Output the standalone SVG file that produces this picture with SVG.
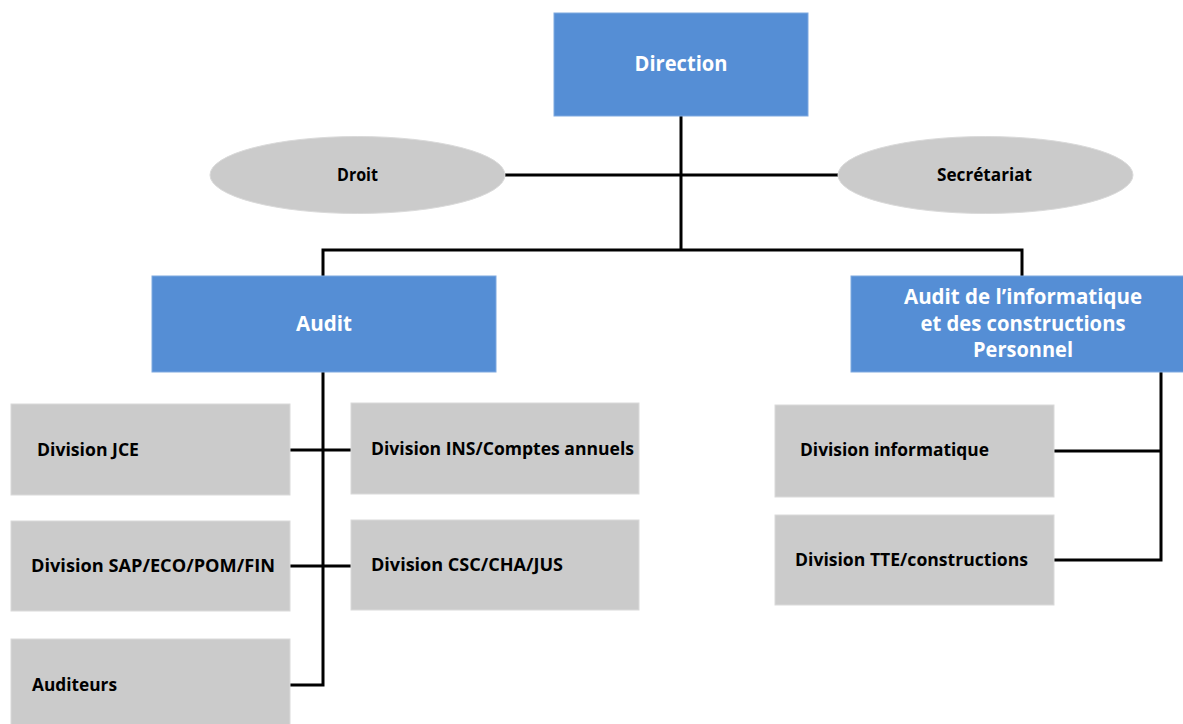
<svg xmlns="http://www.w3.org/2000/svg" width="1183" height="724" viewBox="0 0 1183 724">
<style>
.blue{fill:#558ED5;stroke:#7FA9E0;stroke-width:1}
.gray{fill:#CBCBCB;stroke:#DADADA;stroke-width:1}
.tw{font-family:"Open Sans","Liberation Sans",sans-serif;font-weight:bold;fill:#FFFFFF;text-anchor:middle}
.tb{font-family:"Open Sans","Liberation Sans",sans-serif;font-weight:bold;fill:#000000}
.c{fill:none;stroke:#000000;stroke-width:3}
</style>
<rect width="1183" height="724" fill="#FFFFFF"/>
<g id="connectors">
<path class="c" d="M681 116V250"/>
<path class="c" d="M505 175H838"/>
<path class="c" d="M323 250H1022M323 248.5V276M1022 248.5V276"/>
<path class="c" d="M323 372V685H290"/>
<path class="c" d="M290 450H351M290 566H351"/>
<path class="c" d="M1161 372V560H1054M1054 451H1161"/>
</g>
<g id="direction">
<rect class="blue" x="554" y="13" width="254" height="103"/>
<text class="tw" x="681" y="71" font-size="22" textLength="93" lengthAdjust="spacingAndGlyphs">Direction</text>
</g>
<g id="droit">
<ellipse class="gray" cx="357.5" cy="175" rx="147.5" ry="38.5"/>
<text class="tb" x="337" y="181" font-size="17" textLength="41" lengthAdjust="spacingAndGlyphs">Droit</text>
</g>
<g id="secretariat">
<ellipse class="gray" cx="985.5" cy="175" rx="147.5" ry="38.5"/>
<text class="tb" x="937" y="181" font-size="17" textLength="95" lengthAdjust="spacingAndGlyphs">Secrétariat</text>
</g>
<g id="audit">
<rect class="blue" x="152" y="276" width="344" height="96"/>
<text class="tw" x="324" y="331" font-size="21" textLength="56" lengthAdjust="spacingAndGlyphs">Audit</text>
</g>
<g id="audit-info">
<rect class="blue" x="851" y="276" width="333" height="96"/>
<text class="tw" x="1023" y="304" font-size="21" textLength="238" lengthAdjust="spacingAndGlyphs">Audit de l’informatique</text>
<text class="tw" x="1023" y="331" font-size="21" textLength="205" lengthAdjust="spacingAndGlyphs">et des constructions</text>
<text class="tw" x="1023" y="357" font-size="21" textLength="100" lengthAdjust="spacingAndGlyphs">Personnel</text>
</g>
<g id="div-jce">
<rect class="gray" x="11" y="404" width="279" height="91"/>
<text class="tb" x="37" y="456" font-size="18" textLength="102" lengthAdjust="spacingAndGlyphs">Division JCE</text>
</g>
<g id="div-ins">
<rect class="gray" x="351" y="403" width="288" height="91"/>
<text class="tb" x="371" y="455" font-size="18" textLength="263" lengthAdjust="spacingAndGlyphs">Division INS/Comptes annuels</text>
</g>
<g id="div-sap">
<rect class="gray" x="11" y="521" width="279" height="90"/>
<text class="tb" x="31" y="572" font-size="18" textLength="244" lengthAdjust="spacingAndGlyphs">Division SAP/ECO/POM/FIN</text>
</g>
<g id="div-csc">
<rect class="gray" x="351" y="520" width="288" height="90"/>
<text class="tb" x="371" y="571" font-size="18" textLength="192" lengthAdjust="spacingAndGlyphs">Division CSC/CHA/JUS</text>
</g>
<g id="auditeurs">
<rect class="gray" x="11" y="639" width="279" height="90"/>
<text class="tb" x="32" y="691" font-size="18" textLength="85" lengthAdjust="spacingAndGlyphs">Auditeurs</text>
</g>
<g id="div-info">
<rect class="gray" x="775" y="405" width="279" height="92"/>
<text class="tb" x="800" y="456" font-size="18" textLength="189" lengthAdjust="spacingAndGlyphs">Division informatique</text>
</g>
<g id="div-tte">
<rect class="gray" x="775" y="515" width="279" height="90"/>
<text class="tb" x="795" y="566" font-size="18" textLength="233" lengthAdjust="spacingAndGlyphs">Division TTE/constructions</text>
</g>
</svg>
